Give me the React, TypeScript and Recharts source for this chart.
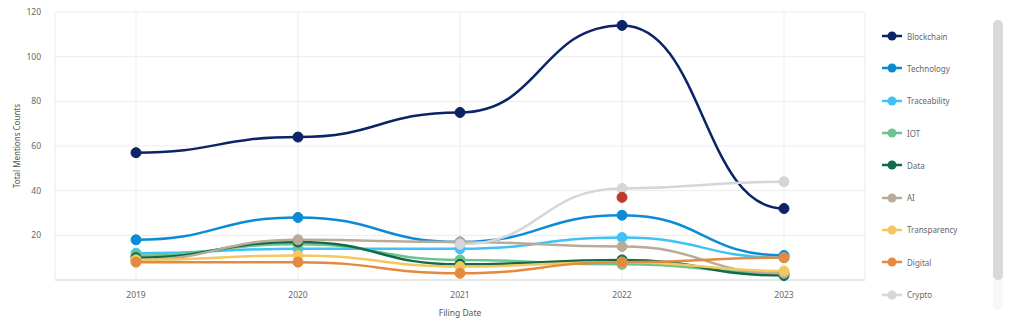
import React from 'react'
import { LineChart, Line, XAxis, YAxis, CartesianGrid } from 'recharts'

const years = ['2019', '2020', '2021', '2022', '2023']
const blockchain = [57, 64, 75, 114, 32]
const technology = [18, 28, 17, 29, 11]
const traceability = [12, 14, 14, 19, 10]
const iot = [11, 16, 9, 7, 3]
const dataSeries = [10, 17, 7, 9, 2]
const ai = [9, 18, 17, 15, 3]
const transparency = [9, 11, 6, 8, 4]
const digital = [8, 8, 3, 8, 10]
const crypto = [null, null, 16, 41, 44]
const highlight = [null, null, null, 37, null]
const yTicks = [20, 40, 60, 80, 100, 120]

const series = [
  { key: 'Blockchain', values: blockchain, color: '#0c2467' },
  { key: 'Technology', values: technology, color: '#0b8bd6' },
  { key: 'Traceability', values: traceability, color: '#40c2f6' },
  { key: 'IOT', values: iot, color: '#6ec490' },
  { key: 'Data', values: dataSeries, color: '#106b4b' },
  { key: 'AI', values: ai, color: '#b9ab97' },
  { key: 'Transparency', values: transparency, color: '#f3c85e' },
  { key: 'Digital', values: digital, color: '#e5893f' },
  { key: 'Crypto', values: crypto, color: '#d4d6d9' },
]

const chartData = years.map((year, i) => {
  const row: Record<string, string | number | null> = { year, Highlight: highlight[i] }
  series.forEach((s) => {
    row[s.key] = s.values[i]
  })
  return row
})

const font = '"Noto Sans", "Open Sans", sans-serif'

function LegendPanel() {
  return (
    <div style={{ position: 'absolute', left: 880, top: 20, fontFamily: font }}>
      {series.map((s) => (
        <div key={s.key} style={{ display: 'flex', alignItems: 'center', height: 32.3 }}>
          <svg width={24} height={12}>
            <line x1={2} y1={6} x2={22} y2={6} stroke={s.color} strokeWidth={2.5} />
            <circle cx={12} cy={6} r={4.5} fill={s.color} />
          </svg>
          <span style={{ fontSize: 8, color: '#666', marginLeft: 3 }}>{s.key}</span>
        </div>
      ))}
    </div>
  )
}

export default function App() {
  return (
    <div style={{ position: 'relative', width: 1024, height: 331, margin: -8, background: '#fff' }}>
      <LineChart
        width={870}
        height={331}
        data={chartData}
        margin={{ top: 12, right: 5, bottom: 0, left: 0 }}
      >
        <CartesianGrid stroke="#ececec" strokeWidth={1} />
        <XAxis
          dataKey="year"
          height={51}
          padding={{ left: 81, right: 81 }}
          tickLine={false}
          axisLine={{ stroke: '#e3e3e3', strokeWidth: 1.5 }}
          tick={{ fill: '#666', fontSize: 8.5, fontFamily: font }}
          tickMargin={6}
          label={{ value: 'Filing Date', position: 'insideBottom', offset: 15, fill: '#555', fontSize: 8.5, fontFamily: font }}
        />
        <YAxis
          width={55}
          domain={[0, 120]}
          ticks={yTicks}
          tickLine={false}
          axisLine={false}
          tick={{ fill: '#666', fontSize: 8.5, fontFamily: font }}
          tickMargin={8}
          label={{ value: 'Total Mentions Counts', angle: -90, position: 'insideLeft', offset: 17, fill: '#555', fontSize: 8, fontFamily: font, style: { textAnchor: 'middle' } }}
        />
        {series.map((s) => (
          <Line
            key={s.key}
            type="bumpX"
            dataKey={s.key}
            stroke={s.color}
            strokeWidth={2.5}
            dot={{ r: 5, fill: s.color, stroke: s.color, strokeWidth: 1 }}
            isAnimationActive={false}
          />
        ))}
        <Line
          type="bumpX"
          dataKey="Highlight"
          stroke="#c0392b"
          strokeWidth={0}
          legendType="none"
          dot={{ r: 5, fill: '#bf3a2e', stroke: '#bf3a2e', strokeWidth: 1 }}
          isAnimationActive={false}
        />
      </LineChart>
      <LegendPanel />
      <div style={{ position: 'absolute', left: 993, top: 20, width: 10, height: 290, borderRadius: 5, background: '#f8f8f8' }} />
      <div style={{ position: 'absolute', left: 993, top: 20, width: 10, height: 260, borderRadius: 5, background: '#d9d9d9' }} />
    </div>
  )
}
